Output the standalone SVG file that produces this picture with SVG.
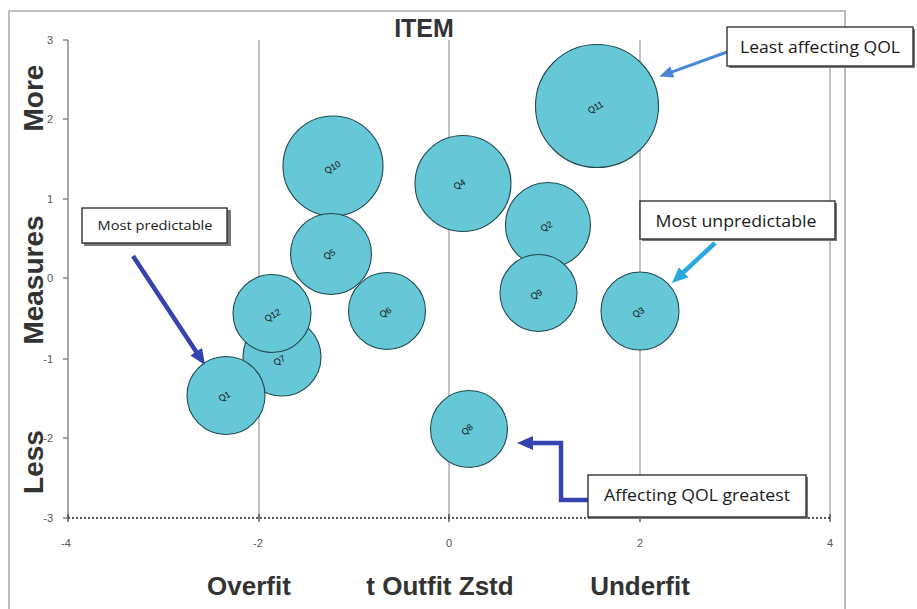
<svg xmlns="http://www.w3.org/2000/svg" width="917" height="609" viewBox="0 0 917 609">
<defs>
<style>
.bub{fill:#66C7D6;stroke:#1f4a50;stroke-width:1.1}
.bl{font-family:"Liberation Sans",Arial,sans-serif;font-size:9px;fill:#111;text-anchor:middle}
.grid{stroke:#9a9a9a;stroke-width:1.2;fill:none}
.tick{font-family:"Liberation Sans",Arial,sans-serif;font-size:11px;fill:#555}
.big{font-family:"Liberation Sans",Arial,sans-serif;font-weight:bold;fill:#333}
.box{fill:#fff;stroke:#333;stroke-width:1.4}
.shadow{fill:#777}
.ct{font-family:"Open Sans","Liberation Sans",sans-serif;fill:#1a1a1a}
</style>
<marker id="mDark" viewBox="0 0 16 14" markerWidth="16" markerHeight="14" refX="6" refY="7" orient="auto" markerUnits="userSpaceOnUse"><path d="M0,0 L16,7 L0,14 z" fill="#3443B0"/></marker>
<marker id="mMid" viewBox="0 0 16 14" markerWidth="14" markerHeight="12" refX="6" refY="7" orient="auto" markerUnits="userSpaceOnUse"><path d="M0,0 L16,7 L0,14 z" fill="#4A88D6"/></marker>
<marker id="mLight" viewBox="0 0 16 14" markerWidth="16" markerHeight="14" refX="6" refY="7" orient="auto" markerUnits="userSpaceOnUse"><path d="M0,0 L16,7 L0,14 z" fill="#2AA8E2"/></marker>
</defs>
<rect width="917" height="609" fill="#fff"/>
<rect x="9" y="11" width="836" height="610" fill="none" stroke="#bdbdbd" stroke-width="2"/>

<g id="axes">
<line class="grid" x1="259" y1="40" x2="259" y2="518"/>
<line class="grid" x1="449" y1="40" x2="449" y2="518"/>
<line class="grid" x1="640" y1="40" x2="640" y2="518"/>
<line class="grid" x1="830" y1="40" x2="830" y2="518"/>
<line x1="68" y1="40" x2="68" y2="518" stroke="#777" stroke-width="1.3"/>
<g stroke="#777" stroke-width="1.3">
<line x1="63" y1="40" x2="68" y2="40"/><line x1="63" y1="119" x2="68" y2="119"/><line x1="63" y1="199" x2="68" y2="199"/><line x1="63" y1="278" x2="68" y2="278"/><line x1="63" y1="359" x2="68" y2="359"/><line x1="63" y1="438" x2="68" y2="438"/><line x1="63" y1="518" x2="68" y2="518"/>
</g>
<line x1="68" y1="518" x2="830" y2="518" stroke="#222" stroke-width="1.3" stroke-dasharray="2,2"/>
<g stroke="#444" stroke-width="1.3">
<line x1="68" y1="514" x2="68" y2="522"/><line x1="259" y1="514" x2="259" y2="522"/><line x1="449" y1="514" x2="449" y2="522"/><line x1="640" y1="514" x2="640" y2="522"/><line x1="830" y1="514" x2="830" y2="522"/>
</g>
<g class="tick" text-anchor="end">
<text x="53" y="44">3</text><text x="53" y="123">2</text><text x="53" y="203">1</text><text x="53" y="282">0</text><text x="53" y="363">-1</text><text x="53" y="442">-2</text><text x="53" y="522">-3</text>
</g>
<g class="tick" text-anchor="middle">
<text x="66" y="547">-4</text><text x="258" y="547">-2</text><text x="449" y="547">0</text><text x="640" y="547">2</text><text x="830" y="547">4</text>
</g>
<text class="big" x="424" y="37" font-size="25" text-anchor="middle">ITEM</text>
<text class="big" x="249" y="595" font-size="26" text-anchor="middle">Overfit</text>
<text class="big" x="440" y="595" font-size="26" text-anchor="middle">t Outfit Zstd</text>
<text class="big" x="640" y="595" font-size="26" text-anchor="middle">Underfit</text>
<text class="big" font-size="28" text-anchor="middle" transform="translate(43,98) rotate(-90)">More</text>
<text class="big" font-size="28" text-anchor="middle" transform="translate(43,280) rotate(-90)">Measures</text>
<text class="big" font-size="28" text-anchor="middle" transform="translate(43,462) rotate(-90)">Less</text>
</g>

<g id="Q11"><circle class="bub" cx="597" cy="106" r="61.5"/><text class="bl" transform="translate(597,110) rotate(-30)">Q11</text></g>
<g id="Q10"><circle class="bub" cx="333" cy="166" r="50"/><text class="bl" transform="translate(334,170) rotate(-30)">Q10</text></g>
<g id="Q5"><circle class="bub" cx="331" cy="254" r="40.5"/><text class="bl" transform="translate(331,257) rotate(-30)">Q5</text></g>
<g id="Q4"><circle class="bub" cx="463" cy="183.5" r="48"/><text class="bl" transform="translate(461,187) rotate(-30)">Q4</text></g>
<g id="Q2"><circle class="bub" cx="548" cy="225" r="42.5"/><text class="bl" transform="translate(548,229) rotate(-30)">Q2</text></g>
<g id="Q9"><circle class="bub" cx="538.5" cy="293" r="38.5"/><text class="bl" transform="translate(538,297) rotate(-30)">Q9</text></g>
<g id="Q3"><circle class="bub" cx="640" cy="311" r="39"/><text class="bl" transform="translate(640,315) rotate(-30)">Q3</text></g>
<g id="Q6"><circle class="bub" cx="387" cy="311" r="38.5"/><text class="bl" transform="translate(387,315) rotate(-30)">Q6</text></g>
<g id="Q7"><circle class="bub" cx="282" cy="357" r="39"/><text class="bl" transform="translate(281,363) rotate(-30)">Q7</text></g>
<g id="Q1"><circle class="bub" cx="226" cy="395.5" r="39"/><text class="bl" transform="translate(226,399) rotate(-30)">Q1</text></g>
<g id="Q12"><circle class="bub" cx="272" cy="313.5" r="39"/><text class="bl" transform="translate(274,318) rotate(-30)">Q12</text></g>
<g id="Q8"><circle class="bub" cx="469" cy="429" r="38.5"/><text class="bl" transform="translate(469,432) rotate(-40)">Q8</text></g>

<g id="connectors" fill="none" stroke-linecap="butt">
<line x1="133" y1="256" x2="199.5" y2="356.7" stroke="#3443B0" stroke-width="4.5" marker-end="url(#mDark)"/>
<line x1="727" y1="52" x2="667.4" y2="73.6" stroke="#4A88D6" stroke-width="3" marker-end="url(#mMid)"/>
<line x1="715" y1="243" x2="679.3" y2="276.2" stroke="#2AA8E2" stroke-width="4.5" marker-end="url(#mLight)"/>
<polyline points="588,500 561,500 561,443 527,443" stroke="#3443B0" stroke-width="4.5" stroke-linejoin="miter" marker-end="url(#mDark)"/>
</g>

<g id="callout-predictable">
<rect class="shadow" x="84" y="210" width="147" height="36"/>
<rect class="box" x="82" y="208" width="145" height="35"/>
<text class="ct" x="155" y="230" font-size="13" text-anchor="middle" textLength="115" lengthAdjust="spacingAndGlyphs">Most predictable</text>
</g>
<g id="callout-least">
<rect class="shadow" x="729" y="29" width="186" height="39"/>
<rect class="box" x="727" y="27" width="186" height="39"/>
<text class="ct" x="740" y="53" font-size="16" textLength="160" lengthAdjust="spacingAndGlyphs">Least affecting QOL</text>
</g>
<g id="callout-unpredictable">
<rect class="shadow" x="642" y="203" width="195" height="38"/>
<rect class="box" x="640" y="201" width="195" height="38"/>
<text class="ct" x="736" y="227" font-size="16" text-anchor="middle" textLength="161" lengthAdjust="spacingAndGlyphs">Most unpredictable</text>
</g>
<g id="callout-greatest">
<rect class="shadow" x="590" y="477" width="218" height="42"/>
<rect class="box" x="588" y="475" width="218" height="42"/>
<text class="ct" x="697" y="501" font-size="16" text-anchor="middle" textLength="186" lengthAdjust="spacingAndGlyphs">Affecting QOL greatest</text>
</g>
</svg>
